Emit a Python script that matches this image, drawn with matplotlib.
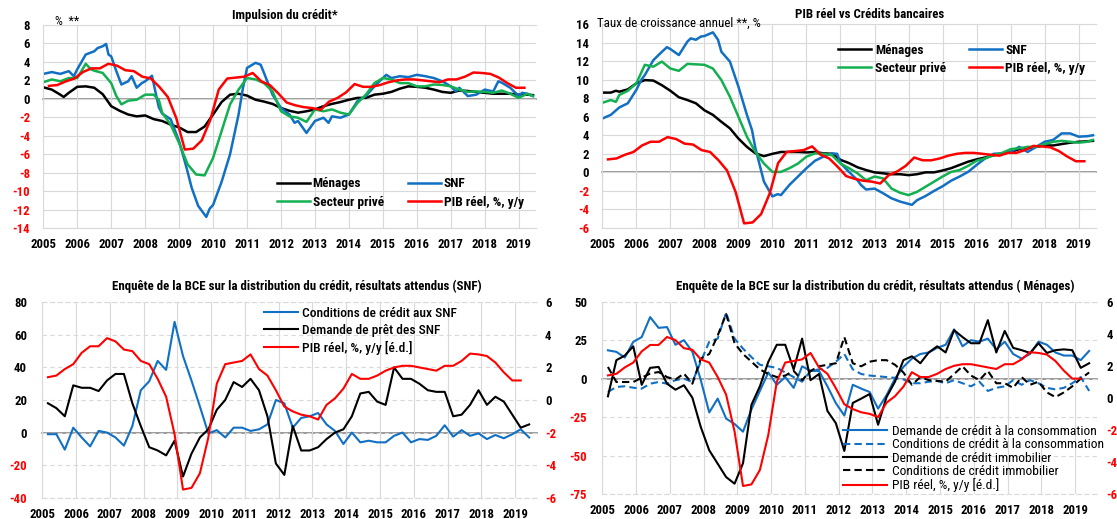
import matplotlib
matplotlib.use('Agg')
import matplotlib.pyplot as plt
from matplotlib import font_manager as fm
import numpy as np

names = {f.name for f in fm.fontManager.ttflist}
FONT = 'DejaVu Sans'
for cand in ['Liberation Sans Narrow', 'Arial Narrow', 'Roboto Condensed',
             'DejaVu Sans Condensed', 'Liberation Sans']:
    if cand in names:
        FONT = cand
        break
plt.rcParams['font.family'] = [FONT, 'DejaVu Sans']

# ---------------- data ----------------
YEARS = list(range(2005, 2020))

# Top-left: Impulsion du crédit (%)
tl_men_x = [2005.0, 2005.25, 2005.5, 2005.6, 2005.75, 2006.0, 2006.25, 2006.5, 2006.75, 2007.0,
            2007.25, 2007.5, 2007.75, 2008.0, 2008.25, 2008.5, 2008.75, 2009.0, 2009.25, 2009.5,
            2009.75, 2010.0, 2010.25, 2010.5, 2010.75, 2011.0, 2011.25, 2011.5, 2011.75, 2012.0,
            2012.25, 2012.5, 2012.75, 2013.0, 2013.25, 2013.5, 2013.75, 2014.0, 2014.25, 2014.5,
            2014.75, 2015.0, 2015.25, 2015.5, 2015.75, 2016.0, 2016.25, 2016.5, 2016.75, 2017.0,
            2017.25, 2017.5, 2017.75, 2018.0, 2018.25, 2018.5, 2018.75, 2019.0, 2019.25, 2019.42]
tl_men_y = [1.25, 1.0, 0.45, 0.2, 0.65, 1.3, 1.35, 1.2, 0.5, -0.8,
            -1.3, -1.7, -1.9, -1.8, -2.2, -2.4, -2.8, -3.1, -3.6, -3.6,
            -3.0, -1.7, -0.35, 0.45, 0.55, 0.35, -0.1, -0.3, -0.55, -1.0,
            -1.3, -1.5, -1.35, -1.15, -0.8, -0.55, -0.35, -0.1, 0.1, 0.1,
            0.45, 0.55, 0.75, 1.1, 1.35, 1.3, 1.2, 1.0, 0.75, 0.65,
            0.9, 0.85, 0.75, 0.65, 0.55, 0.55, 0.55, 0.45, 0.45, 0.4]

tl_snf_x = [2005.0, 2005.25, 2005.5, 2005.75, 2005.9, 2006.0, 2006.25, 2006.5, 2006.6, 2006.75,
            2006.85, 2006.92, 2007.0, 2007.15, 2007.3, 2007.5, 2007.6, 2007.75, 2007.9, 2008.0,
            2008.2, 2008.3, 2008.4, 2008.5, 2008.75, 2009.0, 2009.22, 2009.37, 2009.56, 2009.8,
            2009.9, 2010.0, 2010.1, 2010.25, 2010.5, 2010.75, 2010.88, 2011.0, 2011.25, 2011.4,
            2011.5, 2011.75, 2012.0, 2012.25, 2012.4, 2012.5, 2012.75, 2013.0, 2013.25, 2013.4,
            2013.5, 2013.75, 2014.0, 2014.25, 2014.5, 2014.75, 2015.0, 2015.1, 2015.25, 2015.5,
            2015.75, 2016.0, 2016.25, 2016.5, 2016.75, 2017.0, 2017.15, 2017.25, 2017.5, 2017.75,
            2018.0, 2018.25, 2018.4, 2018.5, 2018.75, 2019.0, 2019.1, 2019.25, 2019.42]
tl_snf_y = [2.7, 2.9, 2.7, 3.0, 2.45, 3.2, 4.8, 5.15, 5.5, 5.7,
            5.95, 4.8, 4.6, 3.0, 1.55, 1.9, 2.45, 1.2, 1.7, 1.9,
            2.5, 0.8, -0.9, -1.6, -2.2, -4.6, -7.5, -9.65, -11.6, -12.8,
            -11.9, -11.5, -10.5, -9.0, -6.0, -1.7, 1.2, 3.35, 3.9, 3.7,
            2.8, 0.45, -1.0, -1.7, -2.6, -2.4, -3.7, -2.4, -2.05, -2.6,
            -1.9, -2.05, -1.7, -0.25, 0.3, 1.35, 2.25, 2.6, 2.25, 2.45,
            2.35, 2.6, 2.45, 2.25, 1.9, 1.35, 0.8, 1.2, 0.3, 0.45,
            1.0, 0.8, 1.9, 1.75, 1.2, 0.3, 0.65, 0.55, 0.3]

tl_prv_x = [2005.0, 2005.25, 2005.5, 2005.75, 2006.0, 2006.25, 2006.4, 2006.5, 2006.75, 2007.0,
            2007.15, 2007.3, 2007.5, 2007.75, 2008.0, 2008.25, 2008.4, 2008.5, 2008.75, 2009.0,
            2009.25, 2009.5, 2009.75, 2010.0, 2010.25, 2010.5, 2010.75, 2011.0, 2011.25, 2011.5,
            2011.75, 2012.0, 2012.25, 2012.5, 2012.75, 2013.0, 2013.25, 2013.5, 2013.75, 2014.0,
            2014.25, 2014.5, 2014.75, 2015.0, 2015.25, 2015.5, 2015.75, 2016.0, 2016.25, 2016.5,
            2016.75, 2017.0, 2017.25, 2017.5, 2017.75, 2018.0, 2018.25, 2018.5, 2018.75, 2019.0,
            2019.25, 2019.42]
tl_prv_y = [1.8, 2.1, 1.9, 2.25, 2.25, 3.8, 3.2, 3.05, 2.8, 1.7,
            0.3, -0.6, -0.2, -0.1, 0.45, 0.45, -0.1, -1.5, -2.8, -4.8,
            -7.1, -8.2, -8.3, -6.4, -3.5, -0.6, 1.0, 2.25, 2.1, 1.7,
            0.8, -1.35, -1.9, -2.05, -2.5, -1.15, -1.35, -1.15, -1.5, -1.7,
            -0.45, 0.45, 1.7, 2.25, 2.1, 1.7, 1.7, 1.35, 1.35, 1.55,
            1.5, 1.35, 1.0, 0.75, 0.8, 0.75, 0.65, 0.9, 0.55, 0.1,
            0.55, 0.3]

# Real GDP y/y (%), quarterly 2005Q1 .. 2019Q1
gdp_y = [1.4, 1.5, 1.9, 2.2, 2.9, 3.3, 3.3, 3.8,
         3.6, 3.1, 3.0, 2.4, 2.2, 1.3, 0.2, -2.1,
         -5.5, -5.4, -4.5, -2.3, 1.0, 2.2, 2.3, 2.4,
         2.8, 1.9, 1.5, 0.6, -0.4, -0.7, -0.9, -1.0,
         -1.2, -0.3, 0.1, 0.7, 1.6, 1.3, 1.3, 1.5,
         1.8, 2.0, 2.1, 2.1, 2.0, 1.9, 1.8, 2.1,
         2.1, 2.4, 2.85, 2.8, 2.7, 2.3, 1.7, 1.2,
         1.2]

# Top-right: annual growth rates (%)
tr_x1 = [2005.0, 2005.25, 2005.4, 2005.5, 2005.75, 2006.0, 2006.25, 2006.5, 2006.75, 2007.0,
         2007.25, 2007.5, 2007.75, 2008.0, 2008.25, 2008.5, 2008.75, 2009.0, 2009.25, 2009.5,
         2009.75, 2010.0, 2010.25, 2010.5, 2010.75, 2011.0, 2011.25, 2011.5, 2011.75, 2012.0,
         2012.25, 2012.5, 2012.75, 2013.0, 2013.25, 2013.5, 2013.75, 2014.0, 2014.25, 2014.5,
         2014.75, 2015.0, 2015.25, 2015.5, 2015.75, 2016.0, 2016.25, 2016.5, 2016.75, 2017.0,
         2017.25, 2017.5, 2017.75, 2018.0, 2018.25, 2018.5, 2018.75, 2019.0, 2019.25, 2019.42]
tr_men_y = [8.6, 8.6, 8.8, 8.7, 8.95, 9.6, 9.95, 9.9, 9.4, 8.8,
            8.1, 7.8, 7.45, 6.7, 6.2, 5.45, 4.75, 3.65, 2.75, 2.05,
            1.75, 2.0, 2.2, 2.2, 2.2, 2.15, 2.2, 2.05, 2.0, 1.35,
            1.0, 0.55, 0.25, 0.0, -0.1, -0.2, -0.2, -0.3, -0.2, 0.0,
            0.0, 0.2, 0.45, 0.8, 1.15, 1.4, 1.6, 1.85, 2.0, 2.2,
            2.5, 2.6, 2.75, 2.9, 2.9, 3.05, 3.2, 3.3, 3.35, 3.4]
tr_prv_y = [7.5, 7.8, 7.6, 8.35, 8.8, 9.6, 11.6, 11.4, 11.95, 11.2,
            10.95, 11.7, 11.65, 11.6, 11.2, 9.95, 8.15, 6.0, 3.85, 2.2,
            0.95, 0.05, 0.05, 0.45, 0.95, 1.7, 2.05, 2.0, 1.85, 0.95,
            0.45, -0.1, -0.85, -0.45, -0.65, -1.75, -2.2, -2.45, -2.1, -1.55,
            -1.0, -0.45, 0.05, 0.25, 0.7, 1.25, 1.5, 1.85, 2.1, 2.5,
            2.6, 2.75, 2.75, 3.05, 3.3, 3.4, 3.3, 3.2, 3.3, 3.5]
tr_snf_x = [2005.0, 2005.25, 2005.5, 2005.75, 2006.0, 2006.15, 2006.25, 2006.5, 2006.75, 2006.9,
            2007.0, 2007.25, 2007.5, 2007.6, 2007.75, 2007.9, 2008.0, 2008.25, 2008.4, 2008.5,
            2008.75, 2009.0, 2009.25, 2009.4, 2009.5, 2009.75, 2010.0, 2010.15, 2010.25, 2010.5,
            2010.75, 2011.0, 2011.25, 2011.5, 2011.75, 2011.9, 2012.0, 2012.25, 2012.5, 2012.6,
            2012.75, 2013.0, 2013.25, 2013.5, 2013.75, 2014.0, 2014.1, 2014.25, 2014.5, 2014.75,
            2015.0, 2015.25, 2015.5, 2015.75, 2016.0, 2016.25, 2016.5, 2016.75, 2017.0, 2017.25,
            2017.5, 2017.75, 2018.0, 2018.25, 2018.5, 2018.75, 2019.0, 2019.25, 2019.42]
tr_snf_y = [5.8, 6.2, 7.0, 7.45, 8.9, 10.0, 10.5, 12.1, 13.0, 13.5,
            13.3, 12.65, 14.1, 14.45, 14.3, 14.65, 14.7, 15.1, 14.3, 13.0,
            11.95, 9.25, 6.2, 4.55, 2.6, -1.0, -2.6, -2.35, -2.45, -1.35,
            -0.45, 0.45, 1.25, 1.7, 2.05, 2.0, 1.0, 0.05, -0.85, -1.35,
            -1.85, -1.75, -2.25, -2.8, -3.15, -3.4, -3.5, -3.0, -2.55, -2.0,
            -1.5, -0.9, -0.45, 0.05, 0.8, 1.5, 2.0, 2.05, 2.2, 2.75,
            2.2, 2.75, 3.3, 3.5, 4.2, 4.2, 3.85, 3.9, 4.0]

# Bottom panels: quarterly survey balances (%), 2005Q1 .. 2019Q3
bl_cond_snf = [-1, -1, -10.5, 3, -3, -8.5, 1, 0, -3, -8,
               4, 26, 31.5, 44, 38.5, 68, 47, 32, 16, -0.5,
               1.5, -3, 3, 3, 1, 2, 5, 20, 18, 3,
               9, 10, 12, 5, 1, -7, 0, -6, -5, -6,
               -6, -2, 0, -6, -4, -4.5, -2, 4.5, -2.5, 1.5,
               -2, -0.5, -4, -1.5, -3.5, -1, 2, -3]
bl_dem_snf = [18, 15, 10, 29, 27.5, 27.5, 25.5, 32, 36, 36,
              18, 4, -9, -11, -14, -5, -27, -13, -3, 2,
              14, 20, 31, 28, 33, 26, 10, -19, -26, 4,
              -11, -11, -9, -4, 0, 2, 10, 24, 25, 19,
              17, 40, 33, 33, 30, 26, 25, 25, 10, 11,
              17, 26, 17, 22, 19, 11, 3, 5]

br_dem_conso = [18.4, 17.4, 13.7, 23.9, 27, 40, 33, 33.5, 22, 25,
                17.5, -1, -22, -13, -26, -29.5, -34.5, -20, -8, 4,
                -4, 1, -6, 8, 5, 5, -5, -16, -24, -4,
                -6.5, -8.7, -19.5, -10.8, 0, 7.6, 13, 16, 17, 20,
                22, 32, 21, 25, 24, 26, 19, 24, 16, 13,
                16, 24, 22, 17, 15, 15, 12, 18]
br_cond_conso = [-8.7, -5.4, -5, -5.9, -6.5, -3.3, -2.2, -3.3, -1, 0,
                 -2.2, 11, 24, 26, 43, 26, 19.5, 14, 9, 8,
                 7, 4, 1, -2, 5, 6, 7, 11, 16, 6,
                 3, 2, 1.5, 1, 0.5, -0.5, -3, -3, -2, -1.5,
                 -3, -1, -3, -5, -2, -8, -6, -5, -1, -4,
                 -1, -3, -6, -7, -6, -3, 1, -8]
br_dem_immo = [-11.5, 12, 15, 21, -4, 7, 7.6, -3.3, -7.2, -4.3,
               -12.4, -31.5, -46.6, -55.3, -64, -68.3, -55, -17, -5, 11,
               22, 22, 6, 26, -1, 3, -21, -29, -47, -15.8,
               -13, -10, -30, -12, -2, 12, 14.5, 10, 17, 21,
               17, 31.5, 27, 23, 23, 38, 17, 31, 20, 18.5,
               16.7, 23, 16.7, 18.5, 19, 18.5, 7, 10]
br_cond_immo = [7.6, -2.2, -2.2, -2.2, 0.6, 3.3, 4.3, 1, -0.6, 3.3,
                -3.3, 13, 16, 28, 42, 23, 16, 11, 6, 3,
                1, 2, 5, -1, 5, 8, 9, 10, 27, 10,
                8, 11, 12, 12, 9, 4, -4, 1, -1, -1.5,
                -2, 3, 8, 2, -1, 5, -3, -3, -6, 1,
                -4, -2, -9, -12, -9, -5, 0, 4]

# quarter dates (quarter-middle-month convention of the source)
q_x = [y + (2 + 3 * q) / 12 for y in range(2005, 2020) for q in range(4)][:58]
gdp_x = q_x[:len(gdp_y)]

# ---------------- style ----------------
BLUE = '#1170c4'
GREEN = '#12b050'
RED = '#ff0000'
BLACK = '#000000'
GRID = '#d9d9d9'
AXIS = '#7f7f7f'
W, H = 1117, 519
TICK_FS = 9.2
LEG_FS_B = 9.7

fig = plt.figure(figsize=(W / 100, H / 100), dpi=100)


def add_ax(l, t, r, b):
    return fig.add_axes([l / W, 1 - b / H, (r - l) / W, (b - t) / H])


def color_labels(labels, values):
    for lab, v in zip(labels, values):
        lab.set_color(RED if v < 0 else BLACK)
        lab.set_fontweight('bold')


def setup(ax, xlim, ylim, yticks, dashed, ypad, xpad):
    ax.set_xlim(*xlim)
    ax.set_ylim(*ylim)
    ax.set_xticks(YEARS)
    ax.set_xticklabels([str(y) for y in YEARS])
    ax.set_yticks(yticks)
    ax.set_yticklabels([f'{v:g}' for v in yticks])
    ax.tick_params(axis='both', length=0, labelsize=TICK_FS)
    ax.tick_params(axis='y', pad=ypad)
    ax.tick_params(axis='x', pad=xpad)
    color_labels(ax.get_yticklabels(), yticks)
    for lab in ax.get_xticklabels():
        lab.set_fontweight('bold')
    hls = (0, (4, 3)) if dashed else '-'
    ax.grid(True, axis='x', color=GRID, lw=0.8)
    ax.grid(True, axis='y', color=GRID, lw=0.8, ls=hls)
    ax.set_axisbelow(True)
    for name, s in ax.spines.items():
        s.set_color(GRID)
        s.set_linewidth(0.8)
        if name == 'right':
            s.set_visible(False)
        if name in ('top', 'bottom'):
            s.set_linestyle(hls)
    sec = ax.secondary_xaxis(0, transform=ax.transData)
    sec.set_xticks(YEARS)
    sec.tick_params(axis='x', length=3.5, width=0.8, color=AXIS, labelbottom=False)
    sec.spines['bottom'].set_color(AXIS)
    sec.spines['bottom'].set_linewidth(1.1)
    return sec


def legend_at(ax, handles, labels, x, y1, fs, weight, pitch, handle_px, pad_px):
    fs_px = fs * 100 / 72
    h = fs_px * 1.02
    top = y1 - h / 2
    leg = ax.legend(handles, labels, loc='upper left',
                    bbox_to_anchor=(x / W, 1 - top / H), bbox_transform=fig.transFigure,
                    frameon=False, borderpad=0, borderaxespad=0,
                    handlelength=handle_px / fs_px, handletextpad=pad_px / fs_px,
                    labelspacing=(pitch - h) / fs_px,
                    prop={'size': fs, 'weight': weight})
    return leg


# ---------------- top-left ----------------
ax1 = add_ax(43.3, 25, 535.7, 228)
setup(ax1, (2005, 2019.5), (-14, 8), list(range(-14, 9, 2)), False, 9.5, 7.2)
LW_T = 1.8
l_men, = ax1.plot(tl_men_x, tl_men_y, color=BLACK, lw=LW_T)
l_snf, = ax1.plot(tl_snf_x, tl_snf_y, color=BLUE, lw=LW_T)
l_prv, = ax1.plot(tl_prv_x, tl_prv_y, color=GREEN, lw=LW_T)
l_gdp, = ax1.plot(gdp_x, gdp_y, color=RED, lw=LW_T)
leg = legend_at(ax1, [l_men, l_prv], ['Ménages', 'Secteur privé'], 276.7, 184, 9.6, 'bold', 19, 33, 3)
ax1.add_artist(leg)
legend_at(ax1, [l_snf, l_gdp], ['SNF', 'PIB réel, %, y/y'], 407.7, 184, 9.6, 'bold', 19, 33, 3)
fig.text(285 / W, 1 - 15 / H, 'Impulsion du crédit*', ha='center', va='center',
         fontsize=9.3, fontweight='bold')
fig.text(55 / W, 1 - 21.5 / H, '%  **', ha='left', va='center', fontsize=9)

# ---------------- top-right ----------------
ax2 = add_ax(602.3, 24, 1095.7, 228)
setup(ax2, (2005, 2019.5), (-6, 16), list(range(-6, 17, 2)), False, 9.5, 7.2)
m2, = ax2.plot(tr_x1, tr_men_y, color=BLACK, lw=LW_T)
s2, = ax2.plot(tr_snf_x, tr_snf_y, color=BLUE, lw=LW_T)
p2, = ax2.plot(tr_x1, tr_prv_y, color=GREEN, lw=LW_T)
g2, = ax2.plot(gdp_x, gdp_y, color=RED, lw=LW_T)
leg = legend_at(ax2, [m2, p2], ['Ménages', 'Secteur privé'], 838.3, 50.7, 9.6, 'bold', 18.6, 33, 4)
ax2.add_artist(leg)
legend_at(ax2, [s2, g2], ['SNF', 'PIB réel, %, y/y'], 969.3, 50.7, 9.6, 'bold', 18.6, 33, 3)
fig.text(870 / W, 1 - 15 / H, 'PIB réel vs Crédits bancaires', ha='center', va='center',
         fontsize=9.3, fontweight='bold')
fig.text(597 / W, 1 - 23 / H, 'Taux de croissance annuel **, %', ha='left', va='center',
         fontsize=9.3)

# ---------------- bottom-left ----------------
LW_B = 1.5
ax3 = add_ax(42.3, 302.3, 536.7, 497.7)
setup(ax3, (2005, 2019.64), (-40, 80), list(range(-40, 81, 20)), True, 11, 7.2)
b3, = ax3.plot(q_x[:len(bl_cond_snf)], bl_cond_snf, color=BLUE, lw=LW_B)
k3, = ax3.plot(q_x[:len(bl_dem_snf)], bl_dem_snf, color=BLACK, lw=LW_B)
ax3r = ax3.twinx()
ax3r.set_ylim(-6, 6)
rt = list(range(-6, 7, 2))
ax3r.set_yticks(rt)
ax3r.set_yticklabels([f'{v:g}' for v in rt])
ax3r.tick_params(axis='y', length=0, labelsize=TICK_FS, pad=6)
color_labels(ax3r.get_yticklabels(), rt)
for s in ax3r.spines.values():
    s.set_visible(False)
r3, = ax3r.plot(gdp_x, gdp_y, color=RED, lw=LW_B)
legend_at(ax3r, [b3, k3, r3],
          ['Conditions de crédit aux SNF', 'Demande de prêt des SNF', 'PIB réel, %, y/y [é.d.]'],
          264, 313.5, LEG_FS_B, 'medium', 17.8, 34, 3.5)
fig.text(297 / W, 1 - 286.5 / H,
         'Enquête de la BCE sur la distribution du crédit, résultats attendus (SNF)',
         ha='center', va='center', fontsize=9.3, fontweight='bold')

# ---------------- bottom-right ----------------
ax4 = add_ax(602.3, 301.7, 1096.7, 494)
setup(ax4, (2005, 2019.64), (-75, 50), list(range(-75, 51, 25)), True, 11, 7.0)
DASH = (0, (3.5, 2))
h1, = ax4.plot(q_x[:len(br_dem_conso)], br_dem_conso, color=BLUE, lw=LW_B)
h2, = ax4.plot(q_x[:len(br_cond_conso)], br_cond_conso, color=BLUE, lw=LW_B, ls=DASH)
h3, = ax4.plot(q_x[:len(br_dem_immo)], br_dem_immo, color=BLACK, lw=LW_B)
h4, = ax4.plot(q_x[:len(br_cond_immo)], br_cond_immo, color=BLACK, lw=LW_B, ls=DASH)
ax4r = ax4.twinx()
ax4r.set_ylim(-6, 6)
ax4r.set_yticks(rt)
ax4r.set_yticklabels([f'{v:g}' for v in rt])
ax4r.tick_params(axis='y', length=0, labelsize=TICK_FS, pad=7)
color_labels(ax4r.get_yticklabels(), rt)
for s in ax4r.spines.values():
    s.set_visible(False)
h5, = ax4r.plot(gdp_x, gdp_y, color=RED, lw=LW_B)
legend_at(ax4r, [h1, h2, h3, h4, h5],
          ['Demande de crédit à la consommation', 'Conditions de crédit à la consommation',
           'Demande de crédit immobilier', 'Conditions de crédit immobilier',
           'PIB réel, %, y/y [é.d.]'],
          843, 431.7, LEG_FS_B, 'normal', 14.15, 43.7, 5)
fig.text(875 / W, 1 - 286.5 / H,
         'Enquête de la BCE sur la distribution du crédit, résultats attendus ( Ménages)',
         ha='center', va='center', fontsize=9.3, fontweight='bold')

fig.savefig('out.png', dpi=100)
